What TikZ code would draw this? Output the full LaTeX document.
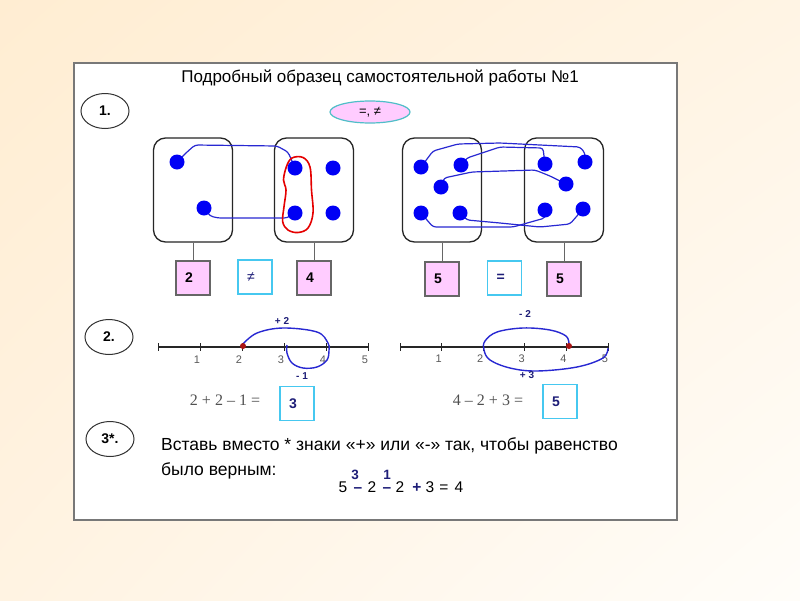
\documentclass[tikz,border=0pt]{standalone}
\usepackage{fontspec}
\setmainfont{Liberation Sans}
\newfontfamily\timesfont{Liberation Serif}
\usetikzlibrary{shapes.geometric,shadings}
\definecolor{bgA}{RGB}{255,237,210}
\definecolor{bgB}{RGB}{255,244,228}
\definecolor{bgC}{RGB}{255,243,226}
\definecolor{bgD}{RGB}{255,253,249}
\definecolor{frameg}{RGB}{120,120,120}
\definecolor{dotblue}{RGB}{0,0,245}
\definecolor{lineblue}{RGB}{40,40,210}
\definecolor{pinkf}{RGB}{255,204,255}
\definecolor{cyanb}{RGB}{70,200,240}
\definecolor{tealb}{RGB}{80,190,200}
\definecolor{navy}{RGB}{30,30,120}
\definecolor{numgray}{RGB}{90,90,90}
\definecolor{eqgray}{RGB}{80,80,80}
\definecolor{dotred}{RGB}{170,20,20}
\begin{document}
\begin{tikzpicture}[x=1pt,y=-1pt,
  die/.style={draw=black!85, line width=1.3pt, rounded corners=12pt, minimum width=79pt, minimum height=104pt, inner sep=0pt},
  dot/.style={circle, fill=dotblue, minimum size=15pt, inner sep=0pt},
  link/.style={draw=lineblue, line width=1.2pt, rounded corners=3pt},
  loopline/.style={draw=red!90!black, line width=1.6pt},
  pbox/.style={draw=black!60, line width=1.2pt, fill=pinkf, minimum size=34pt, inner sep=0pt, font=\fontsize{14}{16}\selectfont\bfseries},
  cbox/.style={draw=cyanb, line width=1.4pt, fill=white, minimum size=34pt, inner sep=0pt, text=navy, font=\fontsize{14}{16}\selectfont\bfseries},
  stem/.style={draw=black!60, line width=1pt},
  numcirc/.style={ellipse, draw=black!80, line width=1pt, minimum width=48pt, minimum height=35pt, inner sep=0pt, font=\fontsize{14}{16}\selectfont\bfseries},
  nline/.style={draw=black!85, line width=1.3pt},
  tick/.style={draw=black!85, line width=1pt},
  ticklab/.style={text=numgray, font=\fontsize{11}{12}\selectfont, anchor=base},
  jump/.style={draw=lineblue, line width=1.4pt},
  jumplab/.style={text=navy, font=\fontsize{10}{12}\selectfont\bfseries},
  eq/.style={text=eqgray, font=\timesfont\fontsize{16}{18}\selectfont, anchor=base},
  eqglyph/.style={font=\fontsize{15.5}{17}\selectfont, anchor=base, inner sep=0pt},
  eqmark/.style={text=navy, font=\fontsize{15.5}{17}\selectfont\bfseries, anchor=base, inner sep=0pt},
  supmark/.style={text=navy, font=\fontsize{13.5}{15}\selectfont\bfseries, anchor=base, inner sep=0pt}
]
\useasboundingbox (0,0) rectangle (800,600);
\shade[upper left=bgA, upper right=bgB, lower left=bgC, lower right=bgD] (0,0) rectangle (800,600);
\draw[frameg, line width=1.6pt, fill=white] (74,63) rectangle (677,520);

\node[anchor=base, inner sep=0pt, font=\fontsize{17}{19}\selectfont] (title) at (380,82) {Подробный образец самостоятельной работы №1};

% section 1
\node[numcirc] (c1) at (105,111) {1.};
\node[ellipse, draw=tealb, fill=pinkf, line width=1.2pt, minimum width=80pt, minimum height=22pt, inner sep=0pt, font=\fontsize{13}{15}\selectfont] (signs) at (370,112) {=, ≠};

\node[die] (box1) at (193,190) {};
\node[die] (box2) at (314,190) {};
\node[die] (box3) at (442,190) {};
\node[die] (box4) at (564,190) {};

\coordinate (a1) at (177,162);
\coordinate (a2) at (204,208);
\coordinate (b1) at (295,168);
\coordinate (b2) at (333,168);
\coordinate (b3) at (295,213);
\coordinate (b4) at (333,213);
\coordinate (p1) at (421,167);
\coordinate (p2) at (461,165);
\coordinate (p3) at (441,187);
\coordinate (p4) at (421,213);
\coordinate (p5) at (460,213);
\coordinate (q1) at (545,164);
\coordinate (q2) at (585,162);
\coordinate (q3) at (566,184);
\coordinate (q4) at (545,210);
\coordinate (q5) at (583,209);

\draw[link] (a1) -- (187,152) -- (195,145) -- (277,146) -- (288,152) -- (b1);
\draw[link] (a2) -- (210,216) -- (218,218) -- (287,218) -- (b3);
\draw[loopline] plot[smooth cycle, tension=0.6] coordinates {(292,158) (303,157.5) (310,167) (311.5,190) (313,213) (308,228) (298,232.5) (288,230) (282.7,221.7) (284,206.7) (286,190) (283.5,180) (286.5,166.5)};

\draw[link] (p1) -- (433,151) -- (458,144) -- (500,143) -- (580,147) -- (585,153) -- (q2);
\draw[link] (p2) -- (467,158) -- (500,147) -- (543,148) -- (q1);
\draw[link] (p3) -- (444,178) -- (472,172) -- (535,170) -- (550,176) -- (q3);
\draw[link] (p4) -- (433,227) -- (513,227) -- (545,218) -- (q4);
\draw[link] (p5) -- (467,220) -- (500,223) -- (540,227) -- (570,224) -- (q5);

\foreach \p in {a1,a2,b1,b2,b3,b4,p1,p2,p3,p4,p5,q1,q2,q3,q4,q5}
  \node[dot] (dot\p) at (\p) {};

\node[pbox] (n1) at (193,278) {\makebox[16pt][l]{2}};
\node[cbox] (s1) at (255,277) {\makebox[16pt][l]{\mdseries ≠}};
\node[pbox] (n2) at (314,278) {\makebox[16pt][l]{4}};
\node[pbox] (n3) at (442,279) {\makebox[16pt][l]{5}};
\node[cbox] (s2) at (504.5,278) {\makebox[16pt][l]{=}};
\node[pbox] (n4) at (564,279) {\makebox[16pt][l]{5}};
\draw[stem] (box1.south) -- (n1.north);
\draw[stem] (box2.south) -- (n2.north);
\draw[stem] (box3.south) -- (n3.north);
\draw[stem] (box4.south) -- (n4.north);

% section 2
\node[numcirc] (c2) at (109,337) {2.};

\coordinate (l0) at (158,347);
\coordinate (l5) at (368,347);
\draw[nline] (l0) -- (l5);
\foreach \i in {0,...,5} {
  \draw[tick] ({158+42*\i},343) -- ({158+42*\i},351);
}
\foreach \i in {1,...,5} {
  \node[ticklab] at ({155+42*\i},363) {\i};
}
\coordinate (r1) at (243,346);
\draw[jump] plot[smooth, tension=0.6] coordinates {(243,344) (257,333) (283,328) (317,332) (328,343) (329,350) (327,360) (317,367) (303,368) (292,363) (287,353) (287,345)};
\fill[dotred] (r1) circle (3pt);
\node[jumplab] (lab1) at (282,321) {+ 2};
\node[jumplab] (lab2) at (302,376) {- 1};
\node[eq] (eq1) at (225,405) {2 + 2 – 1 =};
\node[cbox] (ans1) at (297,403.5) {\makebox[16pt][l]{3}};

\coordinate (m0) at (400,347);
\coordinate (m5) at (608,347);
\draw[nline] (m0) -- (m5);
\foreach \i in {0,...,5} {
  \draw[tick] ({400+41.6*\i},343) -- ({400+41.6*\i},351);
}
\foreach \i in {1,...,5} {
  \node[ticklab] at ({397+41.6*\i},362) {\i};
}
\coordinate (r2) at (569,346);
\draw[jump] plot[smooth, tension=0.6] coordinates {(569,344) (566,336) (550,330) (523,328) (497,332) (485,341) (484,350) (490,360) (510,368) (537,371) (577,367) (603,358) (608,348)};
\fill[dotred] (r2) circle (3pt);
\node[jumplab] (lab3) at (525,314) {- 2};
\node[jumplab] (lab4) at (527,375) {+ 3};
\node[eq] (eq2) at (488,405) {4 – 2 + 3 =};
\node[cbox] (ans2) at (560,401.5) {\makebox[16pt][l]{5}};

% section 3
\node[numcirc] (c3) at (110,439) {3*.};
\node[anchor=base west, align=left, inner sep=0pt, font=\fontsize{17.5}{25}\selectfont] (task) at (161,475) {Вставь вместо * знаки «+» или «-» так, чтобы равенство\\было верным:};

\node[eqglyph] (g1) at (343,492) {5};
\node[eqmark] (g2) at (358,492) {–};
\node[eqglyph] (g3) at (372,492) {2};
\node[eqmark] (g4) at (387,492) {–};
\node[eqglyph] (g5) at (400,492) {2};
\node[eqmark] (g6) at (417,492) {+};
\node[eqglyph] (g7) at (430,492) {3};
\node[eqglyph] (g8) at (444,492) {=};
\node[eqglyph] (g9) at (459,492) {4};
\node[supmark] (u1) at (355,479) {3};
\node[supmark] (u2) at (387,479) {1};
\end{tikzpicture}
\end{document}
